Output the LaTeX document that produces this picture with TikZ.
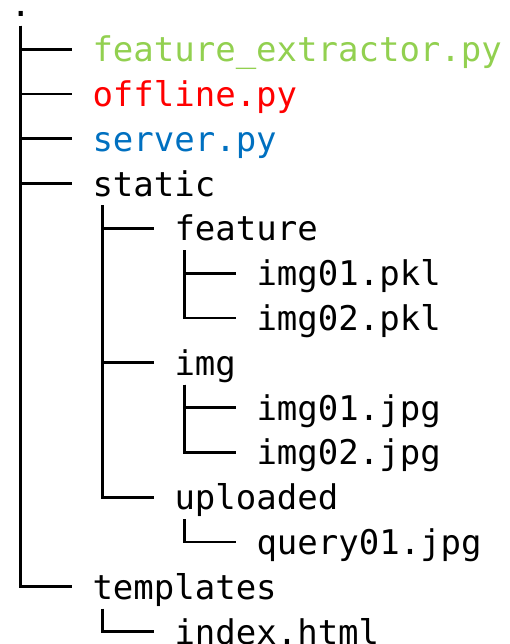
\documentclass[tikz,border=0pt]{standalone}
\usepackage{fontspec}
\setmonofont{DejaVu Sans Mono}
\usetikzlibrary{calc}
\definecolor{pygreen}{HTML}{92D050}
\definecolor{pyred}{HTML}{FF0000}
\definecolor{pyblue}{HTML}{0070C0}
\tikzset{
  entry/.style={anchor=base west, inner sep=0pt, outer sep=0pt,
    font=\fontsize{34}{40}\selectfont\ttfamily, text=black},
  branch/.style={draw=black, line width=2.8pt},
}
% one tree branch: from below the parent down to the child's row, then right
\newcommand{\treebranch}[3][9.3]{%
  \draw[branch] ($(#2.base west)+(10.25,#1)$) |- ($(#3.base west)+(-20.5,-12.5)$);}
\begin{document}
\begin{tikzpicture}[x=1pt,y=-1pt]
  \useasboundingbox (0,0) rectangle (510,644);
  % rows: baseline spacing 44.8, character cell 20.5
  \node[entry] (root) at (10.5,16.2) {.};
  \node[entry, text=pygreen] (fe) at (92.5,61.7) {feature\_extractor.py};
  \node[entry, text=pyred] (off) at (92.5,106.5) {offline.py};
  \node[entry, text=pyblue] (srv) at (92.5,151.3) {server.py};
  \node[entry] (static) at (92.5,196.1) {static};
  \node[entry] (feat) at (174.5,240.9) {feature};
  \node[entry] (pkla) at (256.5,285.7) {img01.pkl};
  \node[entry] (pklb) at (256.5,330.5) {img02.pkl};
  \node[entry] (img) at (174.5,375.3) {img};
  \node[entry] (jpga) at (256.5,420.1) {img01.jpg};
  \node[entry] (jpgb) at (256.5,464.9) {img02.jpg};
  \node[entry] (upl) at (174.5,509.7) {uploaded};
  \node[entry] (qry) at (256.5,554.5) {query01.jpg};
  \node[entry] (tpl) at (92.5,599.3) {templates};
  \node[entry] (idx) at (174.5,644.1) {index.html};

  \treebranch[9.8]{root}{fe}
  \treebranch[9.8]{root}{off}
  \treebranch[9.8]{root}{srv}
  \treebranch[9.8]{root}{static}
  \treebranch[9.8]{root}{tpl}
  \treebranch{static}{feat}
  \treebranch{static}{img}
  \treebranch{static}{upl}
  \treebranch{feat}{pkla}
  \treebranch{feat}{pklb}
  \treebranch{img}{jpga}
  \treebranch{img}{jpgb}
  \treebranch{upl}{qry}
  \treebranch{tpl}{idx}
\end{tikzpicture}
\end{document}
